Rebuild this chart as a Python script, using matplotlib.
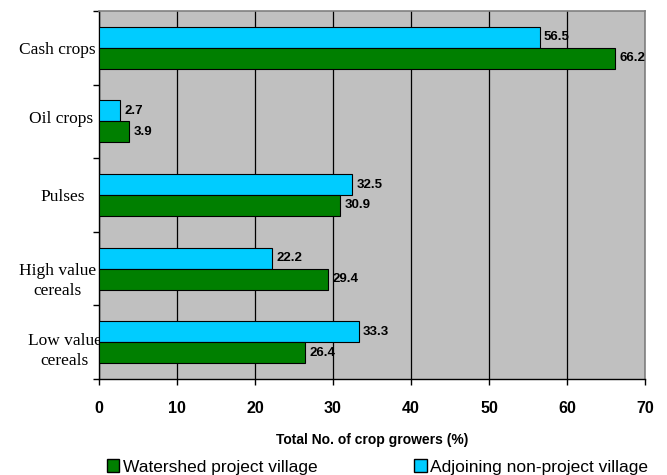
import matplotlib
matplotlib.use("Agg")
import matplotlib.pyplot as plt
import matplotlib.transforms as mtransforms
from matplotlib.patches import Patch
import numpy as np

categories = ["Cash crops", "Oil crops", "Pulses", "High value\ncereals", "Low value\ncereals"]
watershed = [66.2, 3.9, 30.9, 29.4, 26.4]
adjoining = [56.5, 2.7, 32.5, 22.2, 33.3]
xticks = [0, 10, 20, 30, 40, 50, 60, 70]

green = "#007F00"
cyan = "#00CCFF"

fig = plt.figure(figsize=(6.67, 4.75), dpi=100)
ax = fig.add_axes([0.1484, 0.2021, 0.8186, 0.7747])
ax.set_facecolor("#C0C0C0")

y = np.arange(len(categories))
h = 0.285
b1 = ax.barh(y - h / 2, adjoining, height=h, color=cyan, edgecolor="black", linewidth=0.8, zorder=3,
             label="Adjoining non-project village")
b2 = ax.barh(y + h / 2, watershed, height=h, color=green, edgecolor="black", linewidth=0.8, zorder=3,
             label="Watershed project village")

for bars, vals in ((b1, adjoining), (b2, watershed)):
    for bar, v in zip(bars, vals):
        ax.annotate(f"{v:.1f}", (v, bar.get_y() + bar.get_height() / 2),
                    xytext=(3, 0), textcoords="offset points", ha="left", va="center",
                    fontsize=9.5, fontweight="bold", family="Liberation Sans", zorder=4)

ax.set_xlim(0, 70)
ax.set_ylim(len(categories) - 0.5, -0.5)
ax.set_xticks(xticks)
ax.set_xticklabels([str(t) for t in xticks], fontsize=11.5, fontweight="bold", family="Liberation Sans")
ax.tick_params(axis="x", direction="out", length=4, width=1, color="black", pad=12)
ax.xaxis.grid(True, color="black", linewidth=0.9, zorder=1)
ax.set_axisbelow(True)

ax.set_yticks(y)
ax.set_yticklabels(categories, fontsize=12.5, family="Liberation Serif", multialignment="center",
                   linespacing=1.35)
ax.tick_params(axis="y", which="major", length=0, pad=4)
ax.set_yticks(np.arange(len(categories) + 1) - 0.5, minor=True)
ax.tick_params(axis="y", which="minor", direction="out", length=4, width=1, color="black")

xoff = [2, 0, -8, 3, 8]
yoff = [0, 4, 0, -8, -5]
for lab, dx, dy in zip(ax.get_yticklabels(), xoff, yoff):
    lab.set_transform(lab.get_transform() + mtransforms.ScaledTranslation(dx / 100, dy / 100, fig.dpi_scale_trans))

for s in ("top", "right"):
    ax.spines[s].set_color("#808080")
    ax.spines[s].set_linewidth(1.2)
for s in ("left", "bottom"):
    ax.spines[s].set_color("black")
    ax.spines[s].set_linewidth(1)

ax.set_xlabel("Total No. of crop growers (%)", fontsize=10, fontweight="bold", family="Liberation Sans", labelpad=12)

handles = [Patch(facecolor=green, edgecolor="black", label="Watershed project village"),
           Patch(facecolor=cyan, edgecolor="black", label="Adjoining non-project village")]
fig.legend(handles=handles, loc="center", bbox_to_anchor=(0.566, 1 - 467 / 475), ncol=2, frameon=False,
           prop={"family": "Liberation Sans", "size": 12.5}, handlelength=0.7, handleheight=0.7,
           handletextpad=0.2, columnspacing=5.6, borderpad=0, borderaxespad=0)

fig.savefig("out.png", dpi=100)
